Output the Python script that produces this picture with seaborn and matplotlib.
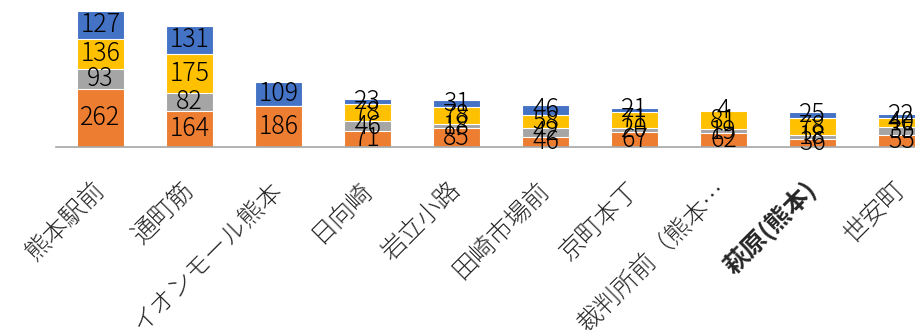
import numpy as np
import pandas as pd
import matplotlib
matplotlib.use("Agg")
import matplotlib.pyplot as plt
import seaborn as sns

# stops (x axis) and the four stacked series, bottom to top
stops = ["熊本駅前", "通町筋", "イオンモール熊本", "日向崎", "岩立小路",
         "田崎市場前", "京町本丁", "裁判所前（熊本…", "萩原(熊本)", "世安町"]
orange_vals = [262, 164, 186, 71, 85, 46, 67, 62, 36, 55]
gray_vals = [93, 82, 0, 46, 18, 42, 20, 19, 18, 35]
yellow_vals = [136, 175, 0, 78, 78, 58, 71, 81, 78, 40]
blue_vals = [127, 131, 109, 23, 31, 46, 21, 4, 25, 22]

colors = ["#ED7D31", "#A5A5A5", "#FFC000", "#4472C4"]

sns.set_style("white")
plt.rcParams['font.family'] = ['Noto Sans CJK JP', 'DejaVu Sans']

df = pd.DataFrame({"stop": stops, "orange": orange_vals, "gray": gray_vals,
                   "yellow": yellow_vals, "blue": blue_vals})
series = ["orange", "gray", "yellow", "blue"]
cum = df[series].cumsum(axis=1)

fig = plt.figure(figsize=(9.15, 3.3), dpi=100)
ax = fig.add_axes([56 / 915, 183 / 330, 890 / 915, 143 / 330])

# draw cumulative bars from the top series down so they stack
for s, c in zip(series[::-1], colors[::-1]):
    sns.barplot(x=df["stop"], y=cum[s], color=c, width=0.52, ax=ax,
                edgecolor="white", linewidth=0.8, saturation=1)

# value labels centred in each segment
for i in range(len(df)):
    for s in series:
        v = df.loc[i, s]
        if v == 0:
            continue
        y = cum.loc[i, s] - v / 2
        ax.text(i, y, str(v), ha="center", va="center", fontsize=18,
                color="black", fontweight="light")

ax.set_ylim(0, 650)
ax.set_xlim(-0.5, 9.5)
ax.set_xlabel("")
ax.set_ylabel("")
ax.set_yticks([])
for sp in ["top", "right", "left"]:
    ax.spines[sp].set_visible(False)
ax.spines["bottom"].set_color("#A6A6A6")
ax.spines["bottom"].set_linewidth(1.2)
ax.tick_params(axis="x", length=0, pad=28)
ax.set_xticks(range(len(stops)))
ax.set_xticklabels(stops, rotation=45, ha="right", va="center",
                   rotation_mode="anchor", fontsize=18, fontweight="light")
for lab in ax.get_xticklabels():
    if lab.get_text() == "萩原(熊本)":
        lab.set_fontweight("bold")

fig.savefig("out.png", dpi=100)
